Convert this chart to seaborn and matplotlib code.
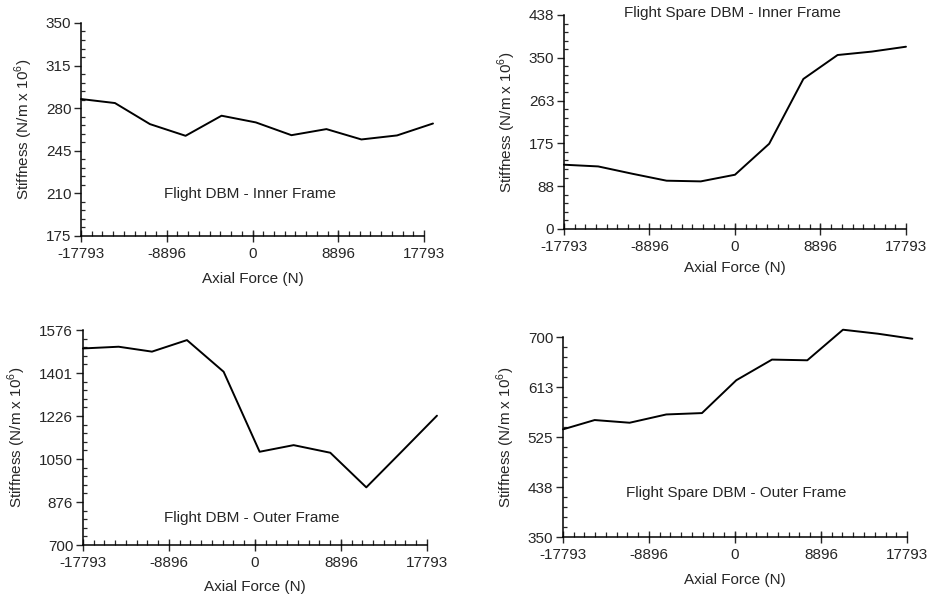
import numpy as np
import pandas as pd
import matplotlib
matplotlib.use("Agg")
import matplotlib.pyplot as plt
import seaborn as sns
from matplotlib.ticker import AutoMinorLocator

sns.set_style("ticks")
plt.rcParams['font.family'] = ['Liberation Sans', 'DejaVu Sans']
plt.rcParams['mathtext.fontset'] = 'custom'
plt.rcParams['mathtext.rm'] = 'Liberation Sans'

# ---- data ----
x_ticks = [-17793, -8896, 0, 8896, 17793]
x_ticklabels = ["-17793", "-8896", "0", "8896", "17793"]

# Flight DBM - Inner Frame
fi_force = [-17793, -14269, -10641, -6945, -3213, 345, 4042, 7669, 11297, 14994, 18725]
fi_stiff = [287.5, 284.2, 266.9, 257.3, 273.8, 268.3, 257.8, 262.8, 254.3, 257.6, 267.4]
fi_yticks = [175, 210, 245, 280, 315, 350]
fi_ylabels = ["175", "210", "245", "280", "315", "350"]

# Flight Spare DBM - Inner Frame
si_force = [-17793, -14235, -10676, -7117, -3559, 0, 3559, 7117, 10676, 14235, 17793]
si_stiff = [131.5, 128, 113, 98.8, 97.4, 111, 174.4, 307, 356, 363, 373]
si_yticks = [0, 87.6, 175.2, 262.8, 350.4, 438]
si_ylabels = ["0", "88", "175", "263", "350", "438"]

# Flight DBM - Outer Frame
fo_force = [-17793, -14103, -10655, -7034, -3241, 483, 4000, 7793, 11517, 15034, 18827]
fo_stiff = [1501, 1508, 1488, 1535, 1406, 1080, 1107, 1076, 935, 1075, 1227]
fo_yticks = [700, 875.2, 1050.4, 1225.6, 1400.8, 1576]
fo_ylabels = ["700", "876", "1050", "1226", "1401", "1576"]

# Flight Spare DBM - Outer Frame
so_force = [-17793, -14517, -10897, -7104, -3414, 138, 3827, 7482, 11172, 14793, 18345]
so_stiff = [538.4, 554.7, 550, 564.5, 566.9, 624.4, 660.5, 659.3, 712.8, 705.8, 697]
so_yticks = [350, 437.5, 525, 612.5, 700]
so_ylabels = ["350", "438", "525", "613", "700"]

panels = [
    dict(force=fi_force, stiff=fi_stiff, yt=fi_yticks, yl=fi_ylabels,
         name="Flight DBM - Inner Frame", pos=[0.0872, 0.6054, 0.3692, 0.3562],
         txt=(0.493, 0.197), xlab_pad=8),
    dict(force=si_force, stiff=si_stiff, yt=si_yticks, yl=si_ylabels,
         name="Flight Spare DBM - Inner Frame", pos=[0.6071, 0.6171, 0.3681, 0.3579],
         txt=(0.494, 1.009), xlab_pad=5),
    dict(force=fo_force, stiff=fo_stiff, yt=fo_yticks, yl=fo_ylabels,
         name="Flight DBM - Outer Frame", pos=[0.0893, 0.0886, 0.3703, 0.3595],
         txt=(0.491, 0.126), xlab_pad=7),
    dict(force=so_force, stiff=so_stiff, yt=so_yticks, yl=so_ylabels,
         name="Flight Spare DBM - Outer Frame", pos=[0.6060, 0.1020, 0.3703, 0.3344],
         txt=(0.503, 0.22), xlab_pad=8),
]

fs = 11

fig = plt.figure(figsize=(9.29, 5.98), dpi=100)

for p in panels:
    ax = fig.add_axes(p["pos"])
    df = pd.DataFrame({"Axial Force (N)": p["force"], "Stiffness": p["stiff"]})
    sns.lineplot(data=df, x="Axial Force (N)", y="Stiffness", ax=ax,
                 color="black", linewidth=1.4, clip_on=False)
    ax.set_xlim(x_ticks[0], x_ticks[-1])
    ax.set_ylim(p["yt"][0], p["yt"][-1])
    ax.set_xticks(x_ticks)
    ax.set_xticklabels(x_ticklabels)
    ax.set_yticks(p["yt"])
    ax.set_yticklabels(p["yl"])
    ax.xaxis.set_minor_locator(AutoMinorLocator(8))
    ax.yaxis.set_minor_locator(AutoMinorLocator(5))
    ax.tick_params(axis="x", which="major", direction="inout", length=8, width=1, labelsize=fs, pad=4)
    ax.tick_params(axis="x", which="minor", direction="in", length=3.5, width=0.9)
    ax.tick_params(axis="y", which="major", direction="out", length=5, width=1, labelsize=fs, pad=2)
    ax.tick_params(axis="y", which="minor", direction="in", length=3, width=0.9)
    sns.despine(ax=ax)
    for s in ["left", "bottom"]:
        ax.spines[s].set_linewidth(1.1)
        ax.spines[s].set_color("black")
    ax.set_xlabel("Axial Force (N)", fontsize=fs, labelpad=p["xlab_pad"])
    ax.set_ylabel("Stiffness (N/m x 10$^6$)", fontsize=fs, labelpad=8)
    ax.text(p["txt"][0], p["txt"][1], p["name"], transform=ax.transAxes,
            ha="center", va="center", fontsize=fs)

fig.savefig("out.png", dpi=100)
